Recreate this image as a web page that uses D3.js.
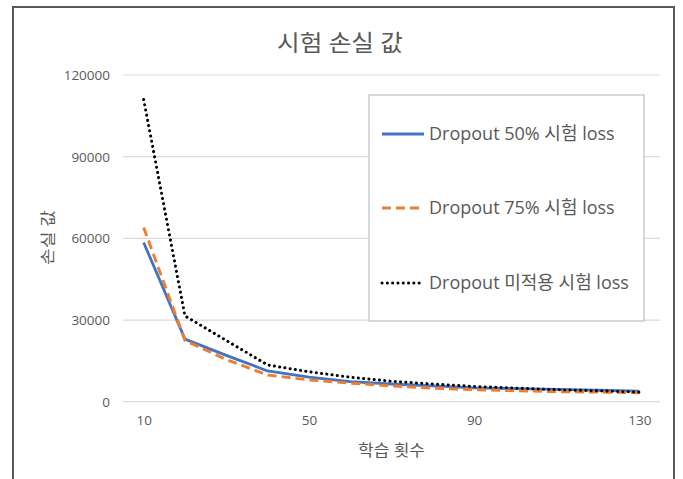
<!DOCTYPE html>
<html>
<head>
<meta charset="utf-8">
<script src="https://cdn.jsdelivr.net/npm/d3@7"></script>
<style>
  html, body { margin: 0; padding: 0; background: #fff; }
  svg { display: block; }
  text { font-family: "Open Sans", "Noto Sans CJK KR", sans-serif; fill: #595959; }
</style>
</head>
<body>
<svg id="chart" width="683" height="479"></svg>
<script>
// Training epochs (category axis)
const epochs = [10, 20, 30, 40, 50, 60, 70, 80, 90, 100, 110, 120, 130];
const epochTickLabels = [10, 50, 90, 130];

// Test loss per epoch for each dropout setting
const lossDrop50 = [58500, 23000, 17000, 11300, 9000, 7400, 6500, 5800, 5100, 4800, 4500, 4200, 3900];
const lossDrop75 = [64000, 22500, 15500, 9800, 8000, 6800, 5800, 5000, 4400, 4000, 3700, 3500, 3300];
const lossNoDrop = [111000, 31500, 22500, 13500, 11000, 9000, 7500, 6500, 5600, 5000, 4400, 4000, 3500];

const yTicks = [0, 30000, 60000, 90000, 120000];

const seriesNames = ["Dropout 50% 시험 loss", "Dropout 75% 시험 loss", "Dropout 미적용 시험 loss"];
const seriesColors = ["#4472C4", "#ED7D31", "#000000"];
const seriesDash = [null, "9,5", "0.1,5.2"];
const seriesWidth = [2.8, 2.9, 3];
const seriesCap = ["butt", "butt", "round"];
const seriesValues = [lossDrop50, lossDrop75, lossNoDrop];

const svg = d3.select("#chart");

// outer frame
svg.append("rect")
  .attr("x", 13).attr("y", 7)
  .attr("width", 661).attr("height", 500)
  .attr("fill", "#fff")
  .attr("stroke", "#595959").attr("stroke-width", 2);

const plot = { left: 123, right: 660, top: 75, bottom: 401.7 };

const x = d3.scaleLinear().domain([5, 135]).range([plot.left, plot.right]);
const y = d3.scaleLinear().domain([0, 120000]).range([plot.bottom, plot.top]);

// gridlines
svg.append("g")
  .selectAll("line")
  .data(yTicks)
  .join("line")
  .attr("x1", plot.left).attr("x2", plot.right)
  .attr("y1", d => y(d)).attr("y2", d => y(d))
  .attr("stroke", "#d9d9d9").attr("stroke-width", 1.2);

// y axis labels
const yAxis = d3.axisLeft(y).tickValues(yTicks).tickSize(0).tickPadding(13).tickFormat(d3.format("d"));
const gy = svg.append("g").attr("transform", `translate(${plot.left},0)`).call(yAxis);
gy.select(".domain").remove();
gy.selectAll("text").style("font-size", "13.5px").attr("fill", "#595959");

// x axis labels
const xAxis = d3.axisBottom(x).tickValues(epochTickLabels).tickSize(0).tickPadding(14);
const gx = svg.append("g").attr("transform", `translate(0,${plot.bottom})`).call(xAxis);
gx.select(".domain").remove();
gx.selectAll("text").style("font-size", "13.5px").attr("fill", "#595959");

// titles
svg.append("text")
  .attr("x", 340).attr("y", 51)
  .attr("text-anchor", "middle")
  .style("font-size", "23px")
  .attr("textLength", 126)
  .attr("lengthAdjust", "spacingAndGlyphs")
  .text("시험 손실 값");

svg.append("text")
  .attr("x", (plot.left + plot.right) / 2).attr("y", 456)
  .attr("text-anchor", "middle")
  .style("font-size", "16px")
  .attr("textLength", 67)
  .attr("lengthAdjust", "spacingAndGlyphs")
  .text("학습 횟수");

svg.append("text")
  .attr("transform", `translate(48,237.5) rotate(-90)`)
  .attr("text-anchor", "middle")
  .attr("dy", "0.35em")
  .style("font-size", "15px")
  .attr("textLength", 55)
  .attr("lengthAdjust", "spacingAndGlyphs")
  .text("손실 값");

// series lines
const line = d3.line()
  .x((d, i) => x(epochs[i]))
  .y(d => y(d));

seriesValues.forEach((vals, k) => {
  svg.append("path")
    .datum(vals)
    .attr("d", line)
    .attr("fill", "none")
    .attr("stroke", seriesColors[k])
    .attr("stroke-width", seriesWidth[k])
    .attr("stroke-linecap", seriesCap[k])
    .attr("stroke-linejoin", "round")
    .attr("stroke-dasharray", seriesDash[k]);
});

// legend
const legend = svg.append("g");
legend.append("rect")
  .attr("x", 369).attr("y", 95)
  .attr("width", 275).attr("height", 226)
  .attr("fill", "#fff")
  .attr("stroke", "#bfbfbf").attr("stroke-width", 1.2);

const rowY = [134, 208, 283];
seriesNames.forEach((name, k) => {
  legend.append("line")
    .attr("x1", 382).attr("x2", 424)
    .attr("y1", rowY[k]).attr("y2", rowY[k])
    .attr("stroke", seriesColors[k])
    .attr("stroke-width", seriesWidth[k])
    .attr("stroke-linecap", seriesCap[k])
    .attr("stroke-dasharray", seriesDash[k]);
  legend.append("text")
    .attr("x", 429).attr("y", rowY[k])
    .attr("dy", "0.35em")
    .style("font-size", "18px")
    .attr("fill", "#404040")
    .text(name);
});
</script>
</body>
</html>
